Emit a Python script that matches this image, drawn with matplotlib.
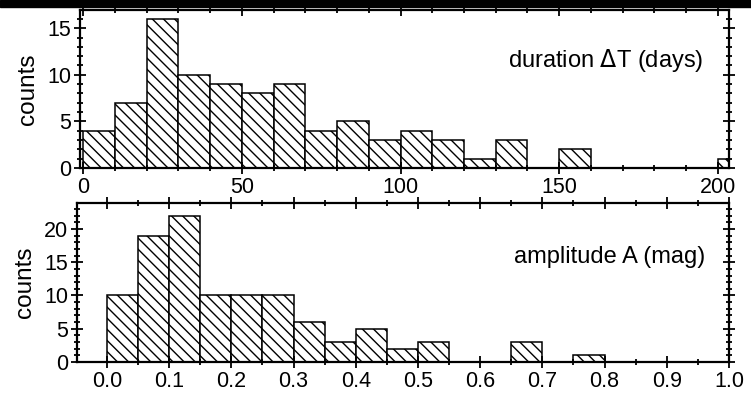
import numpy as np
import matplotlib
matplotlib.use("Agg")
import matplotlib.pyplot as plt
from matplotlib.ticker import MultipleLocator, FormatStrFormatter

plt.rcParams['font.family'] = ['Liberation Sans', 'DejaVu Sans']
plt.rcParams['hatch.linewidth'] = 1.0

# duration histogram (bins of 10 days, left edges)
dur_edges = [0, 10, 20, 30, 40, 50, 60, 70, 80, 90, 100, 110, 120, 130, 140, 150, 200]
dur_counts = [4, 7, 16, 10, 9, 8, 9, 4, 5, 3, 4, 3, 1, 3, 0, 2, 1]

# amplitude histogram (bins of 0.05 mag, left edges)
amp_edges = [0.0, 0.05, 0.10, 0.15, 0.20, 0.25, 0.30, 0.35, 0.40, 0.45,
             0.50, 0.55, 0.60, 0.65, 0.70, 0.75]
amp_counts = [10, 19, 22, 10, 10, 10, 6, 3, 5, 2, 3, 0, 0, 3, 0, 1]


def style_axis(ax, xmaj, xmin, ymaj, ymin):
    ax.xaxis.set_major_locator(MultipleLocator(xmaj))
    ax.xaxis.set_minor_locator(MultipleLocator(xmin))
    ax.yaxis.set_major_locator(MultipleLocator(ymaj))
    ax.yaxis.set_minor_locator(MultipleLocator(ymin))
    ax.tick_params(which='both', direction='inout', top=True, right=True,
                   labelsize=15.5, width=1.3, pad=2)
    ax.tick_params(which='major', length=9)
    ax.tick_params(which='minor', length=5)
    ax.tick_params(axis='y', which='minor', length=4)
    for s in ax.spines.values():
        s.set_linewidth(1.6)
    ax.set_ylabel('counts', fontsize=17.5, labelpad=6)


fig = plt.figure(figsize=(7.51, 4.04), dpi=100)

# black strip left over from the page above
fig.patches.append(plt.Rectangle((0, 1 - 7 / 404), 1, 7 / 404, transform=fig.transFigure,
                                 color='black', zorder=10))

ax1 = fig.add_axes([80 / 751, 1 - 168 / 404, (729 - 80) / 751, (168 - 10.5) / 404])
ax1.bar(dur_edges, dur_counts, width=10, align='edge', color='white',
        edgecolor='black', linewidth=1.1, hatch='\\\\\\')
ax1.set_xlim(-1, 203.5)
ax1.set_ylim(0, 16.9)
style_axis(ax1, 50, 10, 5, 1)
ax1.text(0.96, 0.68, r'duration $\Delta$T (days)', transform=ax1.transAxes,
         ha='right', va='center', fontsize=17)

ax2 = fig.add_axes([77 / 751, 1 - 362 / 404, (729 - 77) / 751, (362 - 203) / 404])
ax2.bar(amp_edges, amp_counts, width=0.05, align='edge', color='white',
        edgecolor='black', linewidth=1.1, hatch='\\\\\\')
ax2.set_xlim(-0.048, 1.0)
ax2.set_ylim(0, 23.9)
style_axis(ax2, 0.1, 0.05, 5, 1)
ax2.xaxis.set_major_formatter(FormatStrFormatter('%.1f'))
ax2.text(0.963, 0.66, 'amplitude A (mag)', transform=ax2.transAxes,
         ha='right', va='center', fontsize=17)

fig.savefig('out.png', dpi=100)
